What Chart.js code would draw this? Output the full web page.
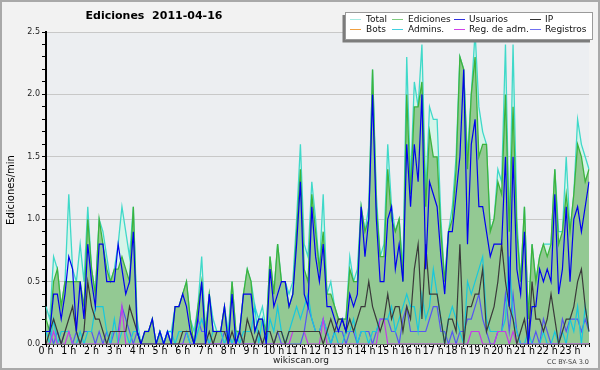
<!DOCTYPE html>
<html>
<head>
<meta charset="utf-8">
<script src="https://cdn.jsdelivr.net/npm/chart.js@4.4.1/dist/chart.umd.min.js"></script>
<style>
  html, body { margin: 0; padding: 0; background: #f2f2f2; }
  #wrap { width: 600px; height: 370px; }
</style>
</head>
<body>
<div id="wrap"><canvas id="edits" width="600" height="370"></canvas></div>
<script>
"use strict";

// hour tick labels, one slot every 10 minutes below them
var hours = ['0 h', '1 h', '2 h', '3 h', '4 h', '5 h', '6 h', '7 h', '8 h', '9 h', '10 h', '11 h',
  '12 h', '13 h', '14 h', '15 h', '16 h', '17 h', '18 h', '19 h', '20 h', '21 h', '22 h', '23 h'];

// edits per minute, 6 values per hour
var total = [
  .3, .2, .7, .6, .3, .5,   1.2, .6, .5, .8, .5, 1.1,   .6, .4, 1.0, .9, .7, .5,   .6, .8, 1.1, .9, .7, 1.1,
  .2, 0, .1, .1, .2, 0,     .1, 0, .1, .1, .3, .3,      .4, .5, .2, .1, .3, .7,    .1, .4, .2, .1, .1, .3,
  .1, .5, .1, .1, .4, .6,   .5, .3, .2, .3, .1, .7,     .4, .8, .5, .5, .4, .5,    1.0, 1.6, .8, .7, 1.3, 1.0,
  .6, 1.2, .4, .5, .3, .2,  .2, .2, .7, .5, .6, 1.1,    .9, 1.1, 2.2, 1.2, .7, .8, 1.6, 1.1, .9, 1.0, .6, 2.3,
  1.3, 2.1, 1.9, 2.4, 1.2, 1.9,  1.8, 1.8, 1.0, .5, .9, 1.1,  1.5, 2.3, 2.2, 1.5, 2.0, 2.5,  1.9, 1.7, 1.6, .9, 1.0, 1.4,
  1.3, 2.4, .9, 2.4, 1.0, .5,    1.1, .2, .8, .5, .7, .8,     .8, .8, 1.4, .9, .9, 1.5,     .9, 1.2, 1.8, 1.6, 1.5, 1.4
];
var ediciones = [
  .2, .1, .5, .6, .3, .5,   .5, .5, .5, .5, .3, 1.0,    .6, .4, 1.0, .8, .6, .5,   .6, .6, .7, .6, .5, 1.1,
  .1, 0, .1, .1, .2, 0,     .1, 0, .1, 0, .3, .3,       .4, .5, .2, 0, .3, .5,     .1, .4, .1, .1, .1, .3,
  0, .5, .1, .1, .4, .6,    .5, .1, .2, .2, .1, .7,     .4, .8, .5, .5, .3, .4,    .9, 1.4, .6, .5, 1.2, .9,
  .6, .9, .4, .4, .3, .2,   .2, .2, .6, .5, .5, 1.1,    .9, 1.0, 2.2, 1.1, .7, .7, 1.4, 1.0, .9, 1.0, .5, 2.0,
  1.2, 1.9, 1.9, 2.1, 1.1, 1.7,  1.5, 1.5, .9, .5, .9, 1.0,   1.4, 2.3, 2.2, 1.4, 2.0, 2.3,  1.5, 1.6, 1.6, .9, 1.0, 1.3,
  1.2, 2.0, .9, 1.9, .9, .5,     1.1, .2, .8, .5, .7, .8,     .7, .8, 1.4, .8, .9, 1.2,     .9, 1.2, 1.6, 1.5, 1.3, 1.4
];
var usuarios = [
  .1, .1, .4, .4, .2, .4,   .7, .6, .1, .5, .2, .8,     .5, .3, .8, .8, .5, .5,    .5, .8, .6, .4, .5, .9,
  .1, 0, .1, .1, .2, 0,     .1, 0, .1, 0, .3, .3,       .4, .3, .1, 0, .2, .5,     0, .4, .1, .1, .1, .3,
  0, .4, 0, .1, .4, .4,     .4, .1, .2, .2, 0, .6,      .3, .4, .5, .5, .3, .4,    .8, 1.3, .4, .3, 1.1, .7,
  .5, .8, .3, .3, .2, .1,   .2, .1, .4, .3, .4, 1.1,    .7, 1.0, 2.0, 1.0, .5, .5, 1.0, 1.1, .6, .8, .5, 1.6,
  1.1, 1.6, 1.3, 2.0, .6, 1.3,   1.2, 1.1, .7, .4, .9, .9,    1.2, 1.5, 2.2, .8, 1.6, 1.8,  1.1, 1.1, .9, .7, .8, .8,
  .8, 1.5, .3, 1.5, .6, .4,      .9, 0, .3, .3, .6, .5,       .6, .5, 1.2, .4, .6, 1.1,     .5, 1.0, 1.1, .9, 1.1, 1.3
];
var ip = [
  0, .1, .2, .1, 0, .1,     .2, .3, .1, 0, .1, .5,      .3, .2, .2, .1, 0, .1,     .1, .1, .1, .1, .3, .2,
  .1, 0, 0, 0, 0, 0,        0, 0, 0, 0, 0, 0,           .1, .1, .1, 0, 0, 0,       0, .1, 0, .1, .1, .1,
  0, .1, 0, .1, 0, .2,      .1, 0, .1, 0, .1, .1,       0, .1, .1, 0, .1, .1,      .1, .1, .1, .1, .1, .1,
  .1, 0, .1, .2, .1, .2,    .2, .1, .2, .1, .2, .3,     .3, .5, .3, .2, .1, .2,    .4, .2, .3, .3, .1, .3,
  .2, .6, .8, .2, .8, .4,   .4, .4, .2, 0, .2, .2,      .1, .8, 0, .3, .3, .4,     .4, .6, .1, .2, .3, .5,
  .8, .5, .3, .2, 0, .1,    .2, 0, .5, .2, .2, .1,      .2, .4, .2, 0, .1, .2,     .2, .3, .5, .6, .3, .1
];
var admins = [
  .1, 0, .2, 0, .1, .1,     .1, 0, 0, .1, 0, .1,        .1, .3, .3, .3, .1, 0,     .2, 0, .1, .1, 0, .1,
  .1, 0, 0, 0, 0, 0,        .1, 0, .1, .1, 0, .1,       .1, .1, 0, 0, .1, .2,      .1, 0, .1, .1, .1, 0,
  .1, 0, .1, 0, .1, .1,     .1, .3, 0, .2, 0, .2,       .1, .3, .1, 0, .1, .2,     .3, .2, .3, .4, .2, .1,
  .1, .2, .1, 0, .1, 0,     0, .1, .1, .2, 0, .1,       .1, 0, .1, .1, .2, .2,     .2, .3, .1, .2, .3, .4,
  .3, .3, .1, .4, .2, .3,   .6, .4, .2, 0, .2, .3,      .2, .1, 0, .5, .4, .5,     .6, .7, .2, .1, .1, .1,
  .1, .2, .7, .2, .1, 0,    0, .1, 0, 0, 0, .1,         0, 0, .1, 0, .1, 0,        .2, .1, .3, 0, .3, .1
];
var regAdm = [
  0, 0, .1, 0, 0, 0,   .1, 0, 0, 0, 0, 0,   0, 0, 0, 0, 0, 0,   0, 0, .3, 0, 0, 0,
  0, 0, 0, 0, 0, 0,    0, 0, 0, 0, 0, 0,    0, 0, 0, 0, 0, 0,   0, 0, 0, 0, 0, 0,
  0, 0, 0, 0, 0, 0,    0, 0, 0, 0, 0, 0,    0, 0, 0, 0, 0, .1,  .1, .1, .1, 0, 0, 0,
  0, .2, 0, 0, 0, 0,   0, 0, 0, 0, 0, 0,    0, 0, 0, 0, .2, .2, 0, 0, 0, 0, 0, 0,
  0, 0, 0, 0, 0, 0,    0, 0, 0, 0, 0, 0,    0, 0, 0, 0, .1, .1, .1, 0, 0, 0, 0, .1,
  .1, .1, 0, .1, 0, 0, 0, 0, 0, 0, 0, 0,    0, 0, 0, 0, 0, 0,   0, 0, 0, 0, 0, 0
];
var registros = [
  .1, .1, 0, .1, 0, .1,     .1, 0, .1, 0, .1, .1,       .1, 0, .1, 0, .1, 0,       .1, .1, .3, .2, .1, 0,
  .1, 0, 0, 0, 0, 0,        0, 0, .1, 0, 0, 0,          0, .1, 0, 0, .2, .1,       .1, 0, 0, 0, 0, .1,
  .1, 0, 0, .1, 0, 0,       0, 0, .1, 0, 0, 0,          0, .1, 0, 0, 0, 0,         0, 0, .1, .3, .2, .1,
  .1, .2, .1, 0, .1, .1,    .1, 0, .1, .1, 0, .1,       .1, .1, 0, .1, .2, .2,     .2, .1, .1, 0, .2, .3,
  .1, .1, .1, .1, .1, .2,   .3, .3, .1, .1, 0, .1,      0, .1, .1, .2, .2, .3,     .4, .2, .1, 0, 0, .1,
  .1, .4, .1, .4, .1, 0,    0, 0, 0, .1, 0, .2,         .1, 0, 0, 0, .2, .1,       .2, .2, .2, .1, .2, .1
];

var slots = [];
hours.forEach((h) => {
  ['00', '10', '20', '30', '40', '50'].forEach((m) => slots.push(h.replace(' h', '') + ':' + m));
});

var isMajor = (v) => Math.round(v * 10) % 5 === 0;

function line(label, data, color, order, extra) {
  return Object.assign({
    label: label, data: data, borderColor: color, borderWidth: 1.2,
    pointRadius: 0, tension: 0, fill: false, order: order
  }, extra || {});
}

// Bots had no edits this day, it only shows in the legend
var legendItems = [
  ['Total', '#a6ebe3'], ['Ediciones', '#7fcc7f'], ['Usuarios', '#3030e0'], ['IP', '#333333'],
  ['Bots', '#f0a040'], ['Admins.', '#40d0e0'], ['Reg. de adm.', '#d040e8'], ['Registros', '#7070f0']
];

var frame = {
  id: 'frame',
  beforeDraw(chart) {
    var ctx = chart.ctx, a = chart.chartArea;
    ctx.save();
    ctx.fillStyle = '#f2f2f2';
    ctx.fillRect(0, 0, chart.width, chart.height);
    ctx.fillStyle = '#eceef1';
    ctx.fillRect(a.left, a.top, a.right - a.left, a.bottom - a.top);
    ctx.restore();
  },
  afterDraw(chart) {
    var ctx = chart.ctx;
    ctx.save();
    ctx.textBaseline = 'middle';
    ctx.textAlign = 'center';
    ctx.fillStyle = '#000';
    ctx.font = 'bold 11px "DejaVu Sans"';
    ctx.fillText('Ediciones  2011-04-16', 154, 16.5);
    ctx.fillStyle = '#222';
    ctx.font = '9px "DejaVu Sans"';
    ctx.fillText('wikiscan.org', 301, 361);
    ctx.textAlign = 'right';
    ctx.fillStyle = '#444';
    ctx.font = '6.5px "DejaVu Sans"';
    ctx.fillText('CC BY-SA 3.0', 589, 362.5);
    ctx.translate(11, 190);
    ctx.rotate(-Math.PI / 2);
    ctx.textAlign = 'center';
    ctx.fillStyle = '#000';
    ctx.font = '10px "DejaVu Sans"';
    ctx.fillText('Ediciones/min', 0, 0);
    ctx.restore();

    // legend box with its shadow
    ctx.save();
    ctx.fillStyle = '#7c7c7c';
    ctx.fillRect(342.5, 15, 247.5, 27.5);
    ctx.fillStyle = '#fff';
    ctx.fillRect(345.5, 12, 247.5, 27.5);
    ctx.strokeStyle = '#9a9a9a';
    ctx.lineWidth = 1;
    ctx.strokeRect(345.5, 12.5, 247, 27);
    var sx = [350, 392, 454, 530], tx = [366, 408, 469, 545], ry = [19, 29];
    ctx.font = '9px "DejaVu Sans"';
    ctx.textAlign = 'left';
    ctx.textBaseline = 'middle';
    legendItems.forEach((it, k) => {
      var c = k % 4, r = Math.floor(k / 4);
      ctx.strokeStyle = it[1];
      ctx.beginPath();
      ctx.moveTo(sx[c], ry[r] + 0.5);
      ctx.lineTo(sx[c] + 11, ry[r] + 0.5);
      ctx.stroke();
      ctx.fillStyle = '#111';
      ctx.fillText(it[0], tx[c], ry[r] + 0.3);
    });
    ctx.strokeStyle = '#a9a9a9';
    ctx.lineWidth = 2;
    ctx.strokeRect(1, 1, 598, 368);
    ctx.restore();
  }
};

var editsChart = new Chart(document.getElementById('edits').getContext('2d'), {
  type: 'line',
  data: {
    labels: slots,
    datasets: [
      line('Usuarios', usuarios, '#0000f0', 1),
      line('IP', ip, '#3a3a3a', 2),
      line('Reg. de adm.', regAdm, '#c43ce6', 3),
      line('Admins.', admins, '#18c8dc', 4),
      line('Registros', registros, '#5656f2', 5),
      line('Ediciones', ediciones, '#3db33d', 7, { fill: 'origin', backgroundColor: '#93c993', borderWidth: 1.3 }),
      line('Total', total, '#3fd9c9', 8, { fill: 'origin', backgroundColor: 'rgba(190,250,225,0.45)', borderWidth: 1.3 })
    ]
  },
  options: {
    responsive: false,
    animation: false,
    events: [],
    layout: { padding: { top: 32, right: 11, bottom: 0, left: 0 } },
    plugins: { legend: { display: false }, tooltip: { enabled: false } },
    scales: {
      x: {
        type: 'category',
        offset: false,
        grid: { drawOnChartArea: false, tickLength: 3, tickColor: '#000' },
        border: { color: '#000', width: 1.5 },
        ticks: {
          autoSkip: false, maxRotation: 0, minRotation: 0, padding: -2, color: '#000',
          font: { family: '"Liberation Sans Narrow", "DejaVu Sans Condensed", sans-serif', size: 10.5 },
          callback: (v, i) => (i % 6 === 0 ? hours[i / 6] : '')
        },
        afterFit: (s) => { s.height = 26; }
      },
      y: {
        min: 0,
        max: 2.5,
        grid: {
          color: (c) => (c.tick && isMajor(c.tick.value) ? '#c8c8c8' : 'rgba(0,0,0,0)'),
          tickColor: '#000',
          tickLength: 4
        },
        border: { color: '#000', width: 2 },
        ticks: {
          stepSize: 0.1, maxTicksLimit: 30, autoSkip: false, padding: 2, color: '#222',
          font: { family: '"DejaVu Sans"', size: 8 },
          callback: (v) => (isMajor(v) ? v.toFixed(1) : '')
        },
        afterFit: (s) => { s.width = 46; }
      }
    }
  },
  plugins: [frame]
});
</script>
</body>
</html>
